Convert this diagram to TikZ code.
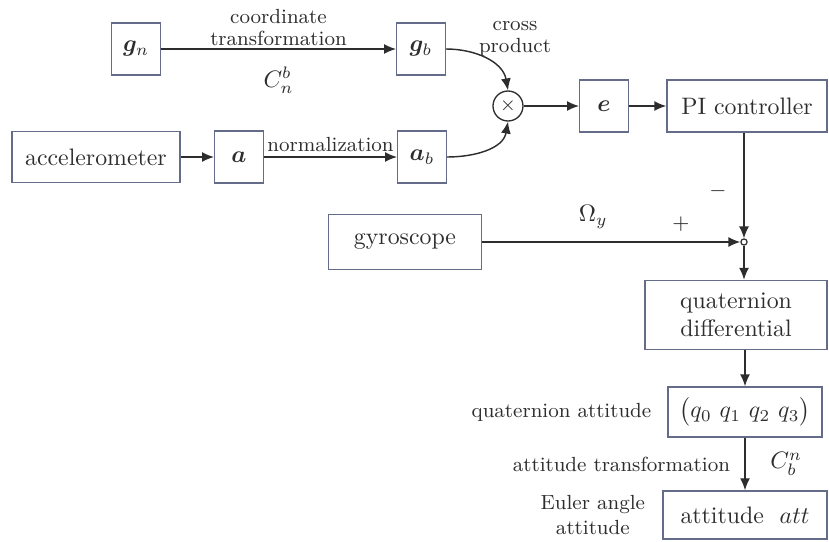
\documentclass[tikz,border=0pt]{standalone}
\usepackage{bm}
\usetikzlibrary{arrows.meta}
\definecolor{boxc}{RGB}{100,108,138}
\definecolor{txtc}{RGB}{45,45,45}

\begin{document}
\begin{tikzpicture}[x=0.42pt,y=-0.42pt,
  blk/.style={draw=boxc, line width=0.65pt, text=txtc, inner sep=1pt},
  sq/.style={blk, minimum width=20.4pt, minimum height=21.8pt},
  arr/.style={-{Latex[length=5pt,width=4.2pt]}, line width=0.6pt, draw=txtc},
  lbl/.style={text=txtc, font=\fontsize{8.6}{9.2}\selectfont, align=center, inner sep=1pt}]
  \useasboundingbox (0,0) rectangle (829,542);
  \node[sq] (gn) at (136,49) {$\bm{g}_n$};
  \node[sq] (gb) at (421,49) {$\bm{g}_b$};
  \node[blk, minimum width=70.6pt, minimum height=21.4pt] (acc) at (96,157) {accelerometer};
  \node[sq] (a) at (239,157) {$\bm{a}$};
  \node[sq] (ab) at (422,157) {$\bm{a}_b$};
  \node[circle, draw=txtc, line width=0.55pt, minimum size=12.6pt, inner sep=0pt, text=txtc, font=\footnotesize] (cross) at (508,106) {$\times$};
  \node[sq] (e) at (604,106) {$\bm{e}$};
  \node[blk, minimum width=67.2pt, minimum height=21.8pt] (pi) at (747,106) {PI controller};
  \node[blk, minimum width=64.3pt, minimum height=23.1pt] (gyro) at (405,242) {gyroscope};
  \node[circle, draw=txtc, fill=white, line width=0.5pt, minimum size=2.6pt, inner sep=0pt] (sum) at (744,242) {};
  \node[blk, minimum width=76.4pt, minimum height=29pt, align=center] (qd) at (736,315) {quaternion\\differential};
  \node[blk, minimum width=64.7pt, minimum height=21pt] (q) at (745,412) {$\bigl(q_0\ q_1\ q_2\ q_3\bigr)$};
  \node[blk, minimum width=68.9pt, minimum height=20.2pt] (att) at (745,515) {attitude~~$att$};
  \node[lbl] (crosslbl) at (515,39) {cross\\product};
  \node[lbl, left=5.5pt] (qlbl) at (q.west) {quaternion attitude};
  \node[lbl, left=6pt, font=\fontsize{8.6}{10.2}\selectfont] (eulbl) at (att.west) {Euler angle\\attitude};
  \draw[arr] (gn) -- node[lbl, above] {coordinate\\transformation} node[below=4pt, text=txtc] {$C_n^b$} (gb);
  \draw[arr] (gb.east) to[out=0, in=100] (cross.north);
  \draw[arr] (ab.east) to[out=0, in=-100] (cross.south);
  \draw[arr] (acc) -- (a);
  \draw[arr] (a) -- node[lbl, above=1pt] {normalization} (ab);
  \draw[arr] (cross) -- (e);
  \draw[arr] (e) -- (pi);
  \draw[arr] (sum |- pi.south) -- node[lbl, left=6pt, pos=0.55] {$-$} (sum.north);
  \draw[arr] (gyro) -- node[pos=0.43, above=2pt, text=txtc] {$\Omega_y$} node[lbl, pos=0.77, above=3pt] {$+$} (sum.west);
  \draw[arr] (sum) -- (sum |- qd.north);
  \draw[arr] (q |- qd.south) -- (q.north);
  \draw[arr] (q) -- node[lbl, left=5pt] {attitude transformation} node[right=7pt, text=txtc] {$C_b^n$} (att);
\end{tikzpicture}
\end{document}
